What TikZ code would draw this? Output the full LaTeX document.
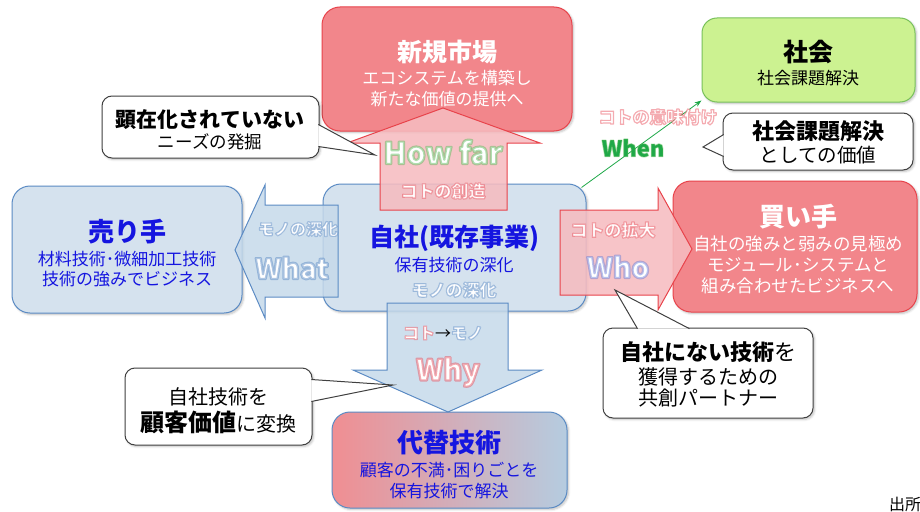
\documentclass[tikz,border=0pt]{standalone}
\usepackage{fontspec}
\setmainfont{Noto Sans CJK JP}
\usetikzlibrary{arrows.meta,shadows.blur,calc}
\definecolor{redfill}{HTML}{F2868B}
\definecolor{redline}{HTML}{E8434B}
\definecolor{arrpink}{HTML}{F6BCC0}
\definecolor{bluefill}{HTML}{D5E2EE}
\definecolor{blueline}{HTML}{5B8BC4}
\definecolor{arrblue}{HTML}{C6D9EA}
\definecolor{greenfill}{HTML}{CCF291}
\definecolor{greenline}{HTML}{79C15B}
\definecolor{txtblue}{HTML}{1515E0}
\definecolor{glowgreen}{HTML}{4FB852}
\definecolor{glowred}{HTML}{E84552}
\definecolor{glowblue}{HTML}{4F82C0}
\definecolor{glowviolet}{HTML}{6078D8}
\definecolor{whengreen}{HTML}{1EA848}
\definecolor{callline}{HTML}{404040}
\definecolor{dleft}{HTML}{F08E92}
\definecolor{dmid}{HTML}{E3EAF1}
\definecolor{dright}{HTML}{B5CCE0}
% glow: #1 halo colour, #2 fill rgb, #3 halo width, #4 text
\newcommand\glow[4]{\textcolor{#1}{\pgfsetstrokeopacity{0.45}\special{pdf:literal direct 2 Tr #3 w 1 j #2 rg}#4\special{pdf:literal direct 0 Tr}}}
\newcommand\fs[1]{\fontsize{#1}{#1}\selectfont}
\begin{document}
\begin{tikzpicture}[x=1pt,y=-1pt,
  shad/.style={blur shadow={shadow xshift=1.5pt,shadow yshift=-1.5pt,shadow opacity=25,shadow blur steps=5}},
  box/.style={rounded corners=18pt,line width=1pt,inner sep=0pt,shad},
  redbox/.style={box,fill=redfill,draw=redline},
  bluebox/.style={box,fill=bluefill,draw=blueline},
  greenbox/.style={box,rounded corners=15pt,fill=greenfill,draw=greenline},
  callbox/.style={rounded corners=10pt,draw=callline,line width=1pt,fill=white,inner sep=0pt,shad},
  callw/.style={draw=callline,fill=white,line width=1pt,line join=miter},
  arrR/.style={fill=arrpink,fill opacity=0.88,draw=redline,line width=1pt},
  arrB/.style={fill=arrblue,fill opacity=0.85,draw=blueline,line width=1pt},
  garrow/.style={draw=whengreen,line width=0.8pt,-{Stealth[length=7pt,width=5pt]}},
  txt/.style={inner sep=0pt,anchor=center}]
\useasboundingbox (0,0) rectangle (920,511);
% ---------- boxes
\node[redbox,minimum width=250pt,minimum height=124pt] (shinki) at (447,69) {};
\node[greenbox,minimum width=213pt,minimum height=84pt] (shakai) at (808.5,60) {};
\node[bluebox,minimum width=230pt,minimum height=127pt] (urite) at (127,249.5) {};
\node[bluebox,minimum width=263pt,minimum height=127pt] (jisha) at (454.5,247.5) {};
\node[redbox,minimum width=244pt,minimum height=131pt] (kaite) at (795,246.5) {};
\node[box,draw=blueline,left color=dleft,middle color=dmid,right color=dright,minimum width=235pt,minimum height=96pt] (daitai) at (449.5,460) {};
% ---------- green connector
\draw[garrow] ($(jisha.north east)+(-5,4)$) -- ($(shakai.south west)+(0,-2)$);
% ---------- block arrows
\filldraw[arrR] (380,210) -- (380,143) -- (347,143) -- (443,108) -- (540,143) -- (507,143) -- (507,210) -- cycle;
\filldraw[arrB] (338,205) -- (265,205) -- (265,185) -- (235,250) -- (265,318) -- (265,297) -- (338,297) -- cycle;
\filldraw[arrR] (560,210) -- (658,210) -- (658,188) -- (692,249) -- (658,310) -- (658,295) -- (560,295) -- cycle;
\filldraw[arrB] (387,303) -- (508,303) -- (508,370) -- (542,370) -- (448,412) -- (353,370) -- (387,370) -- cycle;
% ---------- callouts
\node[callbox,minimum width=217pt,minimum height=62pt] (cneeds) at (210.5,127) {};
\coordinate (cneedstip) at (375,155);
\filldraw[callw] ($(cneeds.north east)+(-1.2,29)$) -- (cneedstip) -- ($(cneeds.north east)+(-1.2,51)$);
\node[callbox,minimum width=190pt,minimum height=57pt] (cwhen) at (818,141.5) {};
\coordinate (cwhentip) at (703,147);
\filldraw[callw] ($(cwhen.north west)+(1.2,22)$) -- (cwhentip) -- ($(cwhen.north west)+(1.2,44)$);
\node[callbox,minimum width=210pt,minimum height=90pt] (cpartner) at (708,373) {};
\coordinate (cpartnertip) at (615,290);
\filldraw[callw] ($(cpartner.north west)+(35,1.2)$) -- (cpartnertip) -- ($(cpartner.north west)+(87,1.2)$);
\node[callbox,minimum width=187pt,minimum height=77pt] (cvalue) at (218.5,406.5) {};
\coordinate (cvaluetip) at (393,385);
\filldraw[callw] ($(cvalue.north east)+(-1.2,12)$) -- (cvaluetip) -- ($(cvalue.north east)+(-1.2,34)$);
% ---------- texts
\node[txt,font=\fs{25}\bfseries,text=white] (t1a) at (447,52) {新規市場};
\node[txt,font=\fs{17},text=white] (t1b) at (447,78) {エコシステムを構築し};
\node[txt,font=\fs{17},text=white] (t1c) at (447,99) {新たな価値の提供へ};
\node[txt,font=\fs{30}\bfseries] (howfar) at (443,152) {\glow{glowgreen}{1 1 1}{2.2}{How far}};
\node[txt,font=\fs{17}\bfseries] (sozo) at (443,191) {\glow{glowred}{1 1 1}{1.2}{コトの創造}};
\node[txt,font=\fs{25}\bfseries] (t2a) at (808,52) {社会};
\node[txt,font=\fs{17}] (t2b) at (808,78) {社会課題解決};
\node[txt,font=\fs{22}\bfseries] (t3a) at (818,131) {社会課題解決};
\node[txt,font=\fs{19.5}] (t3b) at (818,155) {としての価値};
\node[txt,font=\fs{17}\bfseries] (imi) at (658,117) {\glow{glowred}{1 1 1}{1.2}{コトの意味付け}};
\node[txt,font=\fs{22}\bfseries] (when) at (633,148) {\glow{glowgreen}{0.118 0.659 0.282}{1.2}{When}};
\node[txt,font=\fs{21}\bfseries] (t4a) at (210,120) {顕在化されていない};
\node[txt,font=\fs{17.5}] (t4b) at (210,142) {ニーズの発掘};
\node[txt,font=\fs{26}\bfseries,text=txtblue] (t5a) at (127,232) {売り手};
\node[txt,font=\fs{17},text=txtblue] (t5b) at (127,259) {材料技術･微細加工技術};
\node[txt,font=\fs{17},text=txtblue] (t5c) at (127,279) {技術の強みでビジネス};
\node[txt,font=\fs{16}\bfseries] (monoA) at (298,229) {\glow{glowblue}{1 1 1}{1.2}{モノの深化}};
\node[txt,font=\fs{28}\bfseries] (what) at (292,268) {\glow{glowblue}{1 1 1}{2.2}{What}};
\node[txt,font=\fs{25}\bfseries,text=txtblue] (t6a) at (454,238) {自社(既存事業)};
\node[txt,font=\fs{17},text=txtblue] (t6b) at (454,265) {保有技術の深化};
\node[txt,font=\fs{17}\bfseries] (t6c) at (454,290) {\glow{glowblue}{1 1 1}{1.2}{モノの深化}};
\node[txt,font=\fs{17}\bfseries] (kakudai) at (613,230) {\glow{glowred}{1 1 1}{1.2}{コトの拡大}};
\node[txt,font=\fs{28}\bfseries] (who) at (618,267) {\glow{glowviolet}{1 1 1}{2.2}{Who}};
\node[txt,font=\fs{26}\bfseries,text=white] (t7a) at (798,217) {買い手};
\node[txt,font=\fs{17.5},text=white] (t7b) at (798,244) {自社の強みと弱みの見極め};
\node[txt,font=\fs{17.5},text=white] (t7c) at (798,265) {モジュール･システムと};
\node[txt,font=\fs{17.5},text=white] (t7d) at (798,286) {組み合わせたビジネスへ};
\node[txt,font=\fs{22}] (t8a) at (708,352) {{\bfseries 自社にない技術}を};
\node[txt,font=\fs{20}] (t8b) at (708,377) {獲得するための};
\node[txt,font=\fs{20}] (t8c) at (708,398) {共創パートナー};
\node[txt,font=\fs{16}\bfseries] (kotomono) at (443,333) {\glow{glowred}{1 1 1}{1.2}{コト}{\mdseries →}\glow{glowblue}{1 1 1}{1.2}{モノ}};
\node[txt,font=\fs{29}\bfseries] (why) at (448,372) {\glow{glowred}{1 1 1}{2.2}{Why}};
\node[txt,font=\fs{20}] (t9a) at (218,397) {自社技術を};
\node[txt,font=\fs{20}] (t9b) at (218,422) {{\fs{24}\bfseries 顧客価値}に変換};
\node[txt,font=\fs{26}\bfseries,text=txtblue] (t10a) at (449,443) {代替技術};
\node[txt,font=\fs{17},text=txtblue] (t10b) at (449,470) {顧客の不満･困りごとを};
\node[txt,font=\fs{17},text=txtblue] (t10c) at (449,491) {保有技術で解決};
\node[inner sep=0pt,anchor=north west,font=\fs{16}] (src) at (889,497) {出所};
\end{tikzpicture}
\end{document}
